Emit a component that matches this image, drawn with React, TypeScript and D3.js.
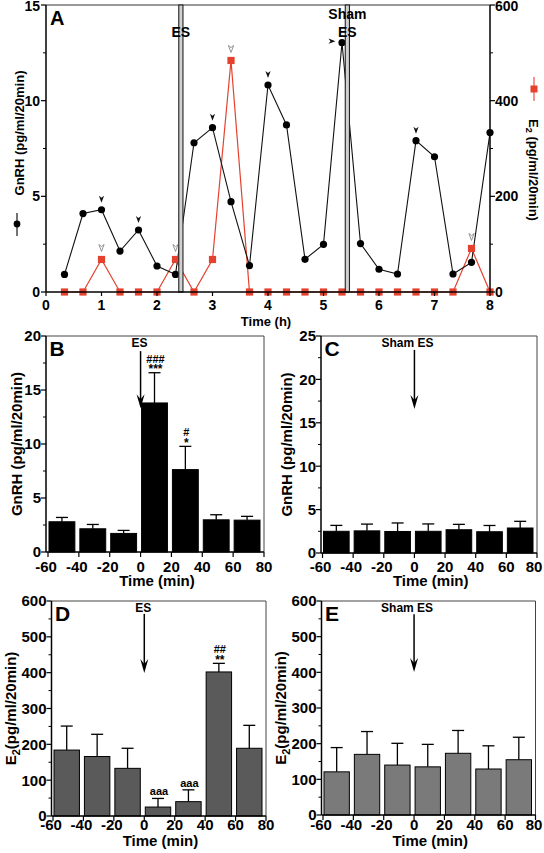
import React from 'react';
import * as d3 from 'd3';

const FONT = "'Liberation Sans', Arial, Helvetica, sans-serif";

// ---------- Panel A data ----------
const timeA = [1/3, 2/3, 1, 4/3, 5/3, 2, 7/3, 8/3, 3, 10/3, 11/3, 4, 13/3, 14/3, 5, 16/3, 17/3, 6, 19/3, 20/3, 7, 22/3, 23/3, 8];
const gnrhA = [0.92, 4.1, 4.3, 2.14, 3.24, 1.36, 0.92, 7.8, 8.59, 4.72, 1.38, 10.82, 8.73, 1.71, 2.49, 13.03, 2.53, 1.19, 0.94, 7.91, 7.07, 0.94, 1.55, 8.33];
const e2A = [0, 0, 68, 0, 0, 0, 68, 0, 68, 484, 0, 0, 0, 0, 0, 0, 0, 0, 0, 0, 0, 0, 91, 0];
const gnrhPulseTimes = [1, 5/3, 3, 4, 20/3];
const gnrhSidePulseTimes = [16/3];
const e2PulseTimes = [1, 7/3, 10/3, 23/3];
const esTimeA = [2.43];
const shamTimeA = [5.43];
const xTicksA = [0, 1, 2, 3, 4, 5, 6, 7, 8];
const yTicksAL = [0, 5, 10, 15];
const yMinorAL = [2.5, 7.5, 12.5];
const yTicksAR = [0, 200, 400, 600];
const yMinorAR = [100, 300, 500];

// ---------- Bar panels data ----------
const binStarts = [-60, -40, -20, 0, 20, 40, 60];
const xTicksBar = [-60, -40, -20, 0, 20, 40, 60, 80];

const gnrhES = [2.8, 2.15, 1.72, 13.8, 7.63, 2.98, 2.95];
const gnrhESErr = [0.4, 0.4, 0.28, 2.8, 2.15, 0.47, 0.35];
const gnrhESHash = ['', '', '', '###', '#', '', ''];
const gnrhESStar = ['', '', '', '***', '*', '', ''];

const gnrhSham = [2.5, 2.55, 2.48, 2.5, 2.68, 2.45, 2.88];
const gnrhShamErr = [0.68, 0.78, 0.98, 0.85, 0.62, 0.72, 0.77];

const e2ES = [184, 166, 133, 25, 40, 402, 189];
const e2ESErr = [67, 62, 56, 24, 33, 24, 64];
const e2ESHash = ['', '', '', '', '', '##', ''];
const e2ESStar = ['', '', '', 'aaa', 'aaa', '**', ''];

const e2Sham = [121, 170, 140, 135, 173, 129, 155];
const e2ShamErr = [68, 64, 61, 63, 64, 65, 63];

const gnrhTicksB = [0, 5, 10, 15, 20];
const gnrhMinorB = [2.5, 7.5, 12.5, 17.5];
const gnrhTicksC = [0, 5, 10, 15, 20, 25];
const gnrhMinorC = [2.5, 7.5, 12.5, 17.5, 22.5];
const e2Ticks = [0, 100, 200, 300, 400, 500, 600];
const e2Minor = [50, 150, 250, 350, 450, 550];

function arrowDown(x: number, yTip: number, w = 2.6, h = 7) {
  return `M${x - w},${yTip - h} L${x},${yTip - h * 0.7} L${x + w},${yTip - h} L${x},${yTip} Z`;
}

function PanelA() {
  const x = d3.scaleLinear().domain([0, 8]).range([46, 490]);
  const yL = d3.scaleLinear().domain([0, 15]).range([292, 5]);
  const yR = d3.scaleLinear().domain([0, 600]).range([292, 5]);
  const lineG = d3.line<number>().x((_, i) => x(timeA[i])).y((d) => yL(d));
  const lineE = d3.line<number>().x((_, i) => x(timeA[i])).y((d) => yR(d));
  const gAt = (t: number) => gnrhA[timeA.findIndex((v) => Math.abs(v - t) < 1e-6)];
  const eAt = (t: number) => e2A[timeA.findIndex((v) => Math.abs(v - t) < 1e-6)];
  const red = '#e5412f';
  return (
    <g>
      <line x1={x(0)} x2={x(8)} y1={yL(15)} y2={yL(15)} stroke="#777" strokeWidth={1.3} />
      <path d={lineE(e2A) || ''} fill="none" stroke={red} strokeWidth={1.2} />
      <path d={lineG(gnrhA) || ''} fill="none" stroke="#111" strokeWidth={1.1} />
      {e2A.map((v, i) => (
        <rect key={'e' + i} x={x(timeA[i]) - 3.6} y={yR(v) - 3.6} width={7.2} height={7.2} fill={red} />
      ))}
      {gnrhA.map((v, i) => (
        <circle key={'g' + i} cx={x(timeA[i])} cy={yL(v)} r={3.6} fill="#000" />
      ))}
      {gnrhPulseTimes.map((t, i) => (
        <path key={'gp' + i} d={arrowDown(x(t), yL(gAt(t)) - 7)} fill="#111" />
      ))}
      {gnrhSidePulseTimes.map((t, i) => {
        const px = x(t) - 6.5;
        const py = yL(gAt(t)) - 1.5;
        return <path key={'gs' + i} d={`M${px - 7},${py - 2.6} L${px - 5},${py} L${px - 7},${py + 2.6} L${px},${py} Z`} fill="#111" />;
      })}
      {e2PulseTimes.map((t, i) => (
        <g key={'ep' + i}>
          <path d={arrowDown(x(t), yR(eAt(t)) - 8)} fill="#fff" stroke="#888" strokeWidth={0.9} />
        </g>
      ))}
      {esTimeA.concat(shamTimeA).map((t, i) => (
        <rect key={'es' + i} x={x(t) - 2.1} y={yL(15)} width={4.2} height={yL(0) - yL(15)} fill="#d0d0d0" stroke="#222" strokeWidth={1.1} />
      ))}
      {/* axes */}
      <line x1={x(0)} x2={x(8)} y1={yL(0)} y2={yL(0)} stroke="#000" strokeWidth={1.5} />
      <line x1={x(0)} x2={x(0)} y1={yL(0)} y2={yL(15)} stroke="#000" strokeWidth={1.5} />
      <line x1={x(8)} x2={x(8)} y1={yR(0)} y2={yR(600)} stroke="#000" strokeWidth={1.5} />
      {xTicksA.map((t) => (
        <g key={'xt' + t}>
          <line x1={x(t)} x2={x(t)} y1={yL(0)} y2={yL(0) + 4} stroke="#000" strokeWidth={1.2} />
          <text x={x(t)} y={310} textAnchor="middle" fontSize={14} fontWeight="bold" fontFamily={FONT}>{t}</text>
        </g>
      ))}
      {yTicksAL.map((v) => (
        <g key={'yl' + v}>
          <line x1={x(0) - 5} x2={x(0)} y1={yL(v)} y2={yL(v)} stroke="#000" strokeWidth={1.2} />
          <text x={x(0) - 6} y={Math.max(yL(v), 6)} dy="0.36em" textAnchor="end" fontSize={14} fontWeight="bold" fontFamily={FONT}>{v}</text>
        </g>
      ))}
      {yMinorAL.map((v) => (
        <line key={'ylm' + v} x1={x(0) - 3} x2={x(0)} y1={yL(v)} y2={yL(v)} stroke="#000" strokeWidth={1} />
      ))}
      {yTicksAR.map((v) => (
        <g key={'yr' + v}>
          <line x1={x(8)} x2={x(8) + 5} y1={yR(v)} y2={yR(v)} stroke="#000" strokeWidth={1.2} />
          <text x={x(8) + 5} y={Math.max(yR(v), 6)} dy="0.36em" textAnchor="start" fontSize={14} fontWeight="bold" fontFamily={FONT}>{v}</text>
        </g>
      ))}
      {yMinorAR.map((v) => (
        <line key={'yrm' + v} x1={x(8)} x2={x(8) + 3} y1={yR(v)} y2={yR(v)} stroke="#000" strokeWidth={1} />
      ))}
      <text x={x(4) - 2} y={326} textAnchor="middle" fontSize={13} fontWeight="bold" fontFamily={FONT}>Time (h)</text>
      {/* labels */}
      <text x={x(esTimeA[0])} y={37} textAnchor="middle" fontSize={14} fontWeight="bold" fontFamily={FONT}>ES</text>
      <text x={x(shamTimeA[0])} y={19} textAnchor="middle" fontSize={14} fontWeight="bold" fontFamily={FONT}>Sham</text>
      <text x={x(shamTimeA[0])} y={37} textAnchor="middle" fontSize={14} fontWeight="bold" fontFamily={FONT}>ES</text>
      <text x={50} y={25} fontSize={20} fontWeight="bold" fontFamily={FONT}>A</text>
      {/* left axis title with legend */}
      <text transform="translate(19,133) rotate(-90)" textAnchor="middle" dy="0.36em" fontSize={13} fontWeight="bold" fontFamily={FONT}>GnRH (pg/ml/20min)</text>
      <line x1={17} x2={17} y1={213} y2={236} stroke="#000" strokeWidth={1.1} />
      <circle cx={17} cy={224} r={3.4} fill="#000" />
      {/* right axis title with legend */}
      <line x1={534} x2={534} y1={77} y2={101} stroke={red} strokeWidth={1.1} />
      <rect x={530.5} y={85.5} width={7} height={7} fill={red} />
      <text transform="translate(534,170) rotate(90)" textAnchor="middle" dy="0.36em" fontSize={13} fontWeight="bold" fontFamily={FONT}>
        E<tspan fontSize={9} dy={3}>2</tspan><tspan dy={-3}> (pg/ml/20min)</tspan>
      </text>
    </g>
  );
}

type BarProps = {
  left: number; right: number; axisX: number; top: number; bottom: number;
  yMax: number; yTicks: number[]; yMinor: number[];
  values: number[]; errs: number[]; fill: string; letter: string;
  ylabel: React.ReactNode; ylabelX: number;
  arrowText: string; arrowFrom: number; arrowTo: number;
  hashes?: string[]; stars?: string[];
  tickLabelY: number; titleY: number;
};

function BarPanel(p: BarProps) {
  const x = d3.scaleLinear().domain([-60, 80]).range([p.left, p.right]);
  const y = d3.scaleLinear().domain([0, p.yMax]).range([p.bottom, p.top]);
  const x0 = x(0);
  const tipY = y(p.arrowTo);
  return (
    <g fontFamily={FONT}>
      <path d={`M${p.axisX},${p.top} H${p.right} V${p.bottom}`} fill="none" stroke="#444" strokeWidth={1} />
      {p.values.map((v, i) => {
        const bx0 = x(binStarts[i]) + 1;
        const bx1 = x(binStarts[i] + 20) - 4;
        const cx = (bx0 + bx1) / 2;
        const capY = y(v + p.errs[i]);
        const h = p.hashes ? p.hashes[i] : '';
        const s = p.stars ? p.stars[i] : '';
        return (
          <g key={i}>
            <line x1={cx} x2={cx} y1={y(v)} y2={capY} stroke="#000" strokeWidth={1.3} />
            <line x1={cx - 6} x2={cx + 6} y1={capY} y2={capY} stroke="#000" strokeWidth={1.3} />
            <rect x={bx0} y={y(v)} width={bx1 - bx0} height={y(0) - y(v)} fill={p.fill} stroke="#000" strokeWidth={1} />
            {s && (
              <text x={cx + 1} y={s === 'aaa' ? capY - 3 : capY + 0.5} textAnchor="middle" fontSize={s === 'aaa' ? 11 : 12} fontWeight="bold">{s}</text>
            )}
            {h && (
              <text x={cx + 1} y={capY - 10} textAnchor="middle" fontSize={11} fontWeight="bold">{h}</text>
            )}
          </g>
        );
      })}
      <line x1={p.axisX} x2={p.right} y1={p.bottom} y2={p.bottom} stroke="#000" strokeWidth={1.5} />
      <line x1={p.axisX} x2={p.axisX} y1={p.bottom} y2={p.top} stroke="#000" strokeWidth={1.5} />
      {xTicksBar.map((t) => {
        const tx = Math.min(x(t) + (t < 0 ? -2 : 0), 534);
        return (
          <g key={'xt' + t}>
            <line x1={x(t)} x2={x(t)} y1={p.bottom} y2={p.bottom + 5} stroke="#000" strokeWidth={1.2} />
            <text x={tx} y={p.tickLabelY} textAnchor="middle" fontSize={15} fontWeight="bold">{t}</text>
          </g>
        );
      })}
      {p.yTicks.map((v) => (
        <g key={'yt' + v}>
          <line x1={p.axisX - 5} x2={p.axisX} y1={y(v)} y2={y(v)} stroke="#000" strokeWidth={1.2} />
          <text x={p.axisX - 5} y={y(v)} dy="0.36em" textAnchor="end" fontSize={15} fontWeight="bold">{v}</text>
        </g>
      ))}
      {p.yMinor.map((v) => (
        <line key={'ym' + v} x1={p.axisX - 3} x2={p.axisX} y1={y(v)} y2={y(v)} stroke="#000" strokeWidth={1} />
      ))}
      <text x={(p.left + p.right) / 2 + 1} y={p.titleY} textAnchor="middle" fontSize={15} fontWeight="bold">Time (min)</text>
      <text x={p.axisX + 3.5} y={p.top + 20} fontSize={21} fontWeight="bold">{p.letter}</text>
      <text transform={`translate(${p.ylabelX},${(p.top + p.bottom) / 2}) rotate(-90)`} textAnchor="middle" dy="0.36em" fontSize={15} fontWeight="bold">{p.ylabel}</text>
      {/* stimulation arrow */}
      <text x={x0 - (p.arrowText.length > 2 ? 7 : 1)} y={p.top + 11} textAnchor="middle" fontSize={12} fontWeight="bold">{p.arrowText}</text>
      <line x1={x0} x2={x0} y1={y(p.arrowFrom)} y2={tipY - 8} stroke="#000" strokeWidth={1.5} />
      <path d={`M${x0 - 4},${tipY - 14} L${x0},${tipY - 9} L${x0 + 4},${tipY - 14} L${x0},${tipY} Z`} fill="#000" />
    </g>
  );
}

const e2Label = (
  <>
    E<tspan fontSize={11} dy={4}>2</tspan><tspan dy={-4}>(pg/ml/20min)</tspan>
  </>
);

export default function App() {
  return (
    <svg width={544} height={853} viewBox="0 0 544 853" style={{ position: 'absolute', left: 0, top: 0, background: '#fff' }}>
      <rect x={0} y={0} width={544} height={853} fill="#fff" />
      <PanelA />
      <BarPanel left={48} right={264} axisX={46} top={336} bottom={552} yMax={20} yTicks={gnrhTicksB} yMinor={gnrhMinorB}
        values={gnrhES} errs={gnrhESErr} fill="#000" letter="B" ylabel="GnRH (pg/ml/20min)" ylabelX={17}
        arrowText="ES" arrowFrom={18.6} arrowTo={13.3} hashes={gnrhESHash} stars={gnrhESStar} tickLabelY={572} titleY={586} />
      <BarPanel left={322.5} right={537} axisX={321} top={336} bottom={553} yMax={25} yTicks={gnrhTicksC} yMinor={gnrhMinorC}
        values={gnrhSham} errs={gnrhShamErr} fill="#000" letter="C" ylabel="GnRH (pg/ml/20min)" ylabelX={287}
        arrowText="Sham ES" arrowFrom={23.4} arrowTo={16.6} tickLabelY={572} titleY={586} />
      <BarPanel left={53} right={266} axisX={51.5} top={601} bottom={816} yMax={600} yTicks={e2Ticks} yMinor={e2Minor}
        values={e2ES} errs={e2ESErr} fill="#5a5a5a" letter="D" ylabel={e2Label} ylabelX={11}
        arrowText="ES" arrowFrom={564} arrowTo={399} hashes={e2ESHash} stars={e2ESStar} tickLabelY={830} titleY={846} />
      <BarPanel left={323} right={535.5} axisX={321.5} top={601} bottom={815} yMax={600} yTicks={e2Ticks} yMinor={e2Minor}
        values={e2Sham} errs={e2ShamErr} fill="#7a7a7a" letter="E" ylabel={e2Label} ylabelX={281}
        arrowText="Sham ES" arrowFrom={563} arrowTo={401} tickLabelY={830} titleY={846} />
    </svg>
  );
}
